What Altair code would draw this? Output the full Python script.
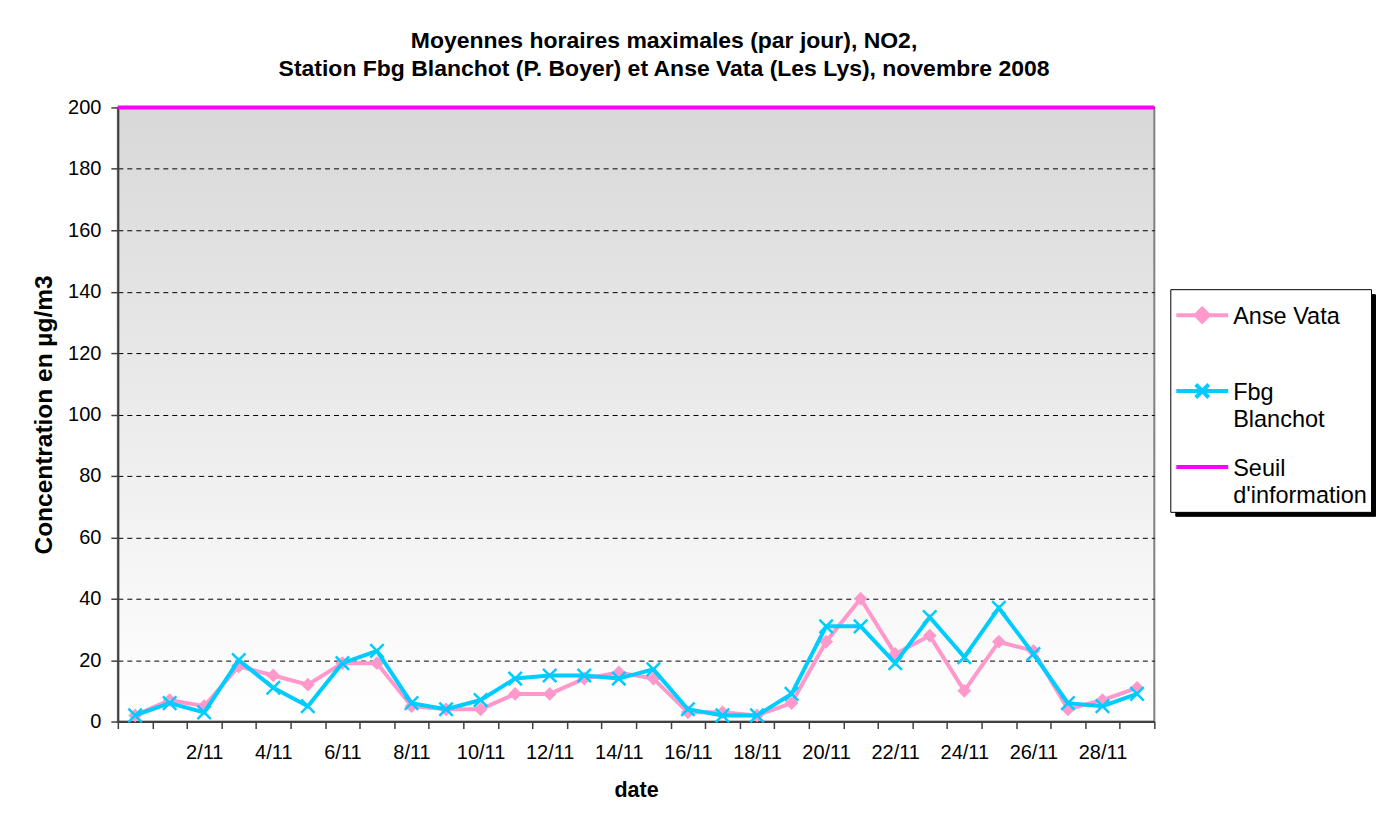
import json
import altair as alt
import pandas as pd

# ---- data ----
categories = ["31/10", "1/11", "2/11", "3/11", "4/11", "5/11", "6/11", "7/11", "8/11", "9/11",
              "10/11", "11/11", "12/11", "13/11", "14/11", "15/11", "16/11", "17/11", "18/11", "19/11",
              "20/11", "21/11", "22/11", "23/11", "24/11", "25/11", "26/11", "27/11", "28/11", "29/11"]
anse_vata = [2, 7, 5, 18, 15, 12, 19, 19, 5, 4, 4, 9, 9, 14, 16, 14, 3, 3, 2, 6,
             26, 40, 22, 28, 10, 26, 23, 4, 7, 11]
fbg_blanchot = [2, 6, 3, 20, 11, 5, 19, 23, 6, 4, 7, 14, 15, 15, 14, 17, 4, 2, 2, 9,
                31, 31, 19, 34, 21, 37, 22, 6, 5, 9]
seuil = [200]
shown_labels = ["2/11", "4/11", "6/11", "8/11", "10/11", "12/11", "14/11",
                "16/11", "18/11", "20/11", "22/11", "24/11", "26/11", "28/11"]
y_ticks = [0, 20, 40, 60, 80, 100, 120, 140, 160, 180, 200]
series_names = ["Anse Vata", "Fbg Blanchot", "Seuil d'information"]
title_lines = ["Moyennes horaires maximales (par jour), NO2,",
               "Station Fbg Blanchot (P. Boyer) et Anse Vata (Les Lys), novembre 2008"]

PINK = "#ff99cc"
CYAN = "#00ccff"
MAGENTA = "#ff00ff"
FONT = "Liberation Sans"

rows = []
for name, vals in [("Anse Vata", anse_vata), ("Fbg Blanchot", fbg_blanchot)]:
    for d, v in zip(categories, vals):
        rows.append({"date": d, "series": name, "value": v})
df = pd.DataFrame(rows)
seuil_df = pd.DataFrame({"value": seuil, "series": ["Seuil d'information"]})
shadow_key = ["shadow"]
legend_df = pd.DataFrame({"series": series_names, "shadow": shadow_key * len(series_names)})

label_expr = "indexof(" + json.dumps(shown_labels).replace('"', "'") + ", datum.label) >= 0 ? datum.label : ''"

x_enc = alt.X(
    "date:O", sort=categories,
    scale=alt.Scale(type="band", domain=categories, paddingInner=0, paddingOuter=0),
    axis=alt.Axis(title="date", labelExpr=label_expr, labelAngle=0, labelOverlap=False,
                  tickBand="extent", tickSize=7, tickColor="#404040", tickWidth=1.5,
                  labelPadding=14, labelFontSize=20, labelColor="black", labelFont=FONT,
                  domainColor="#404040", domainWidth=2, grid=False,
                  titleFontSize=21.5, titleFont=FONT, titleFontWeight="bold", titleColor="black",
                  titlePadding=17),
)
y_enc = alt.Y(
    "value:Q",
    scale=alt.Scale(domain=[0, 200], nice=False),
    axis=alt.Axis(title="Concentration en µg/m3", values=y_ticks, tickSize=7, tickColor="#404040",
                  tickWidth=1.5, labelPadding=10, labelFontSize=20, labelColor="black", labelFont=FONT,
                  domainColor="#404040", domainWidth=2,
                  grid=True, gridDash=[5, 4], gridColor="black", gridWidth=1, gridOpacity=1,
                  titleFontSize=24.5, titleFont=FONT, titleFontWeight="bold", titleColor="black",
                  titlePadding=11),
)

base = alt.Chart(df)
line_av = base.transform_filter(alt.datum.series == "Anse Vata").mark_line(
    color=PINK, strokeWidth=4).encode(x=x_enc, y=y_enc)
pts_av = base.transform_filter(alt.datum.series == "Anse Vata").mark_point(
    shape="diamond", filled=True, size=190, color=PINK, opacity=1).encode(x=x_enc, y=y_enc)
line_fb = base.transform_filter(alt.datum.series == "Fbg Blanchot").mark_line(
    color=CYAN, strokeWidth=4).encode(x=x_enc, y=y_enc)
pts_fb = base.transform_filter(alt.datum.series == "Fbg Blanchot").mark_point(
    shape="M-1,-1L1,1M-1,1L1,-1", filled=False, size=180, strokeWidth=2.5, color=CYAN,
    opacity=1).encode(x=x_enc, y=y_enc)
rule = alt.Chart(seuil_df).mark_rule(color=MAGENTA, strokeWidth=4).encode(y=alt.Y("value:Q"))

# legend (symbols: line + marker), unit = 10 px
sym_paths = ["M-2.6,1H2.6M0,0.35L0.65,1L0,1.65L-0.65,1ZM0,0.7L0.3,1L0,1.3L-0.3,1Z",
             "M-2.6,1H2.6M-0.65,0.35L0.65,1.65M-0.65,1.65L0.65,0.35",
             "M-2.6,1H2.6"]
split_expr = "datum.label == 'Anse Vata' ? datum.label : split(datum.label, ' ')"
main_leg = alt.Legend(orient="none", direction="vertical", columns=1, title=None,
                      legendX=1054, legendY=182, fillColor="white", strokeColor="black",
                      labelFont=FONT, labelFontSize=23.5, labelBaseline="top", labelColor="black",
                      labelExpr=split_expr, labelOffset=19, symbolOffset=16, labelLimit=300,
                      symbolSize=400, symbolStrokeWidth=4, symbolOpacity=1, padding=4,
                      rowPadding=13, gridAlign="all", zindex=2)
# drop shadow of the legend box: a one-entry black legend whose (black) symbol sets its size
shadow_leg = alt.Legend(orient="none", direction="vertical", columns=1, title=None,
                        legendX=1059, legendY=187, fillColor="black", strokeColor="black",
                        labelExpr="''", labelFontSize=23.5, symbolSize=400, symbolStrokeWidth=0,
                        symbolType="M-1.2,-1.2H18V20.2H-1.2Z", symbolFillColor="black",
                        symbolStrokeColor="black", symbolOpacity=1, symbolOffset=0, padding=4,
                        zindex=1)
leg_layer = alt.Chart(legend_df).transform_filter("false").mark_point(
    filled=False, strokeWidth=4).encode(
    color=alt.Color("series:N", scale=alt.Scale(domain=series_names, range=[PINK, CYAN, MAGENTA]),
                    legend=main_leg),
    shape=alt.Shape("series:N", scale=alt.Scale(domain=series_names, range=sym_paths), legend=main_leg),
    strokeDash=alt.StrokeDash("shadow:N", scale=alt.Scale(domain=shadow_key), legend=shadow_leg),
)

gradient = ("{gradient: 'linear', x1: 0, y1: 0, x2: 0, y2: 1, "
            "stops: [{offset: 0, color: '#d8d8d8'}, {offset: 1, color: '#ffffff'}]}")

chart = alt.layer(line_av, pts_av, line_fb, pts_fb, rule, leg_layer).properties(
    width=1038, height=615,
    padding={"left": 110, "top": 99, "right": 222, "bottom": 88},
    autosize=alt.AutoSizeParams(type="none"),
    view=alt.ViewBackground(fill=alt.ExprRef(gradient), stroke="#808080", strokeWidth=2),
    title=alt.Title(text=title_lines, fontSize=23, font=FONT, fontWeight="bold", color="black",
                    anchor="middle", frame="group", dx=28, offset=-2, baseline="alphabetic",
                    lineHeight=28.5),
    background="white",
).configure(font=FONT, style={"guide-label": {"lineHeight": 27}})

chart.save("out.html", embed_options={"renderer": "svg", "actions": False})
